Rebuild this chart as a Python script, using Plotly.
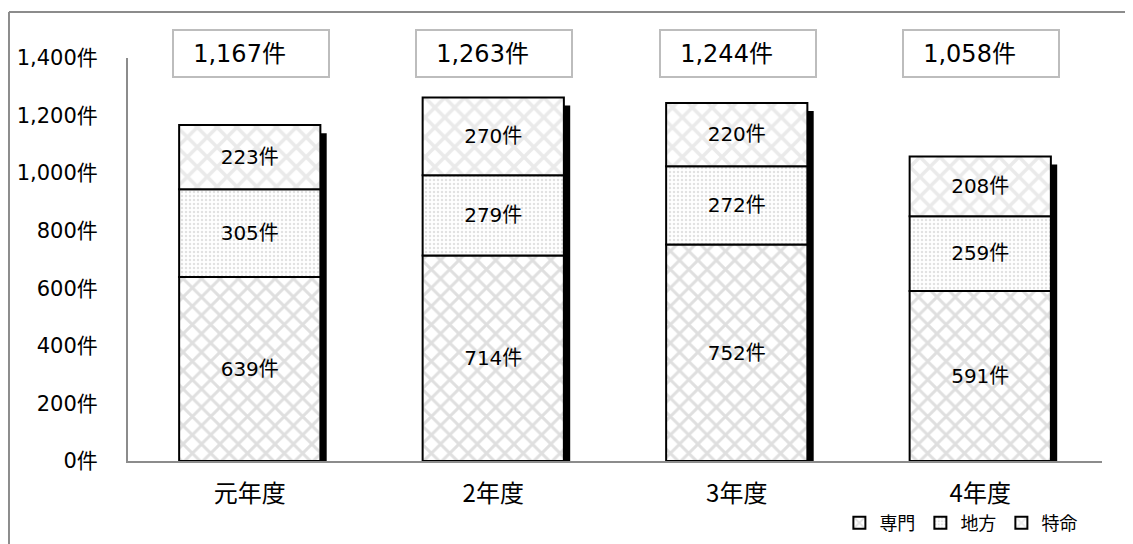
import plotly.graph_objects as go
import numpy as np

categories = ["元年度", "2年度", "3年度", "4年度"]
senmon = [639, 714, 752, 591]   # 専門
chiho = [305, 279, 272, 259]    # 地方
tokumei = [223, 270, 220, 208]  # 特命
totals = [1167, 1263, 1244, 1058]
series_names = ["専門", "地方", "特命"]
y_ticks = [0, 200, 400, 600, 800, 1000, 1200, 1400]
y_tick_labels = ["0件", "200件", "400件", "600件", "800件", "1,000件", "1,200件", "1,400件"]

FONT = "DejaVu Sans, Noto Sans CJK JP"
CJK = "Noto Sans CJK JP"
x = np.arange(len(categories))
bw = 0.58

fig = go.Figure()

# drop shadow behind stacks
fig.add_trace(go.Bar(
    x=x + 0.026, y=[t - 28 for t in totals], base=0, width=bw,
    marker=dict(color="black", line=dict(width=0)),
    showlegend=False, hoverinfo="skip"))

vals = [senmon, chiho, tokumei]
shapes_pat = ["x", ".", "x"]
pat_size = [13, 4, 14]
pat_sol = [0.4, 0.3, 0.45]
pat_col = ["#c0c0c0", "#c4c4c4", "#d6d6d6"]
txt_size = [20, 22, 22]
bases = [np.zeros(4), np.array(senmon), np.array(senmon) + np.array(chiho)]
for name, v, b, sh, ps, so, pc, ts in zip(series_names, vals, bases, shapes_pat,
                                          pat_size, pat_sol, pat_col, txt_size):
    fig.add_trace(go.Bar(
        x=x, y=v, base=b, width=bw, name=name,
        text=[f"{n}件" for n in v], textposition="inside",
        insidetextanchor="middle",
        textfont=dict(family=FONT, size=ts, color="black"),
        marker=dict(color="white", line=dict(color="black", width=2),
                    pattern=dict(shape=sh, fgcolor=pc, bgcolor="white",
                                 size=ps, solidity=so, fillmode="overlay")),
        hoverinfo="skip"))

annotations = []
for i, t in enumerate(totals):
    annotations.append(dict(
        x=i, y=1.012, xref="x", yref="paper", text=f"{t:,}件\u00a0\u00a0\u00a0",
        showarrow=False, font=dict(family=FONT, size=24, color="black"),
        bgcolor="white", bordercolor="#bdbdbd", borderwidth=2,
        width=152, height=43, align="center", xshift=1, yanchor="middle"))

shapes = [
    dict(type="line", xref="paper", yref="paper", x0=-0.1222, x1=1.1,
         y0=1.114, y1=1.114, line=dict(color="#8c8c8c", width=2)),
    dict(type="line", xref="paper", yref="paper", x0=-0.1222, x1=-0.1222,
         y0=1.114, y1=-0.3, line=dict(color="#8c8c8c", width=2)),
]

fig.update_layout(
    width=1125, height=536,
    margin=dict(l=120, r=31, t=50, b=83, autoexpand=False),
    barmode="overlay",
    plot_bgcolor="white", paper_bgcolor="white",
    font=dict(family=FONT, size=17, color="black"),
    xaxis=dict(range=[-0.5, 3.5], tickvals=list(x), ticktext=categories,
               showgrid=False, zeroline=False, showline=True,
               linecolor="#8c8c8c", linewidth=2, ticks="outside",
               ticklen=10, tickcolor="rgba(0,0,0,0)", automargin=False,
               tickfont=dict(family=CJK, size=24)),
    yaxis=dict(range=[0, 1400], tickvals=y_ticks, ticktext=y_tick_labels,
               showgrid=False, zeroline=False, showline=True,
               linecolor="#8c8c8c", linewidth=2, ticks="outside",
               ticklen=24, tickcolor="rgba(0,0,0,0)", automargin=False,
               tickfont=dict(family=FONT, size=21)),
    legend=dict(orientation="h", xref="container", yref="container",
                x=0.955, xanchor="right", y=0.039,
                yanchor="middle", font=dict(family=CJK, size=18),
                itemwidth=30, bgcolor="rgba(0,0,0,0)", tracegroupgap=0),
    annotations=annotations,
    shapes=shapes,
    uniformtext=dict(mode="show", minsize=10),
)

fig.write_html("out.html")
